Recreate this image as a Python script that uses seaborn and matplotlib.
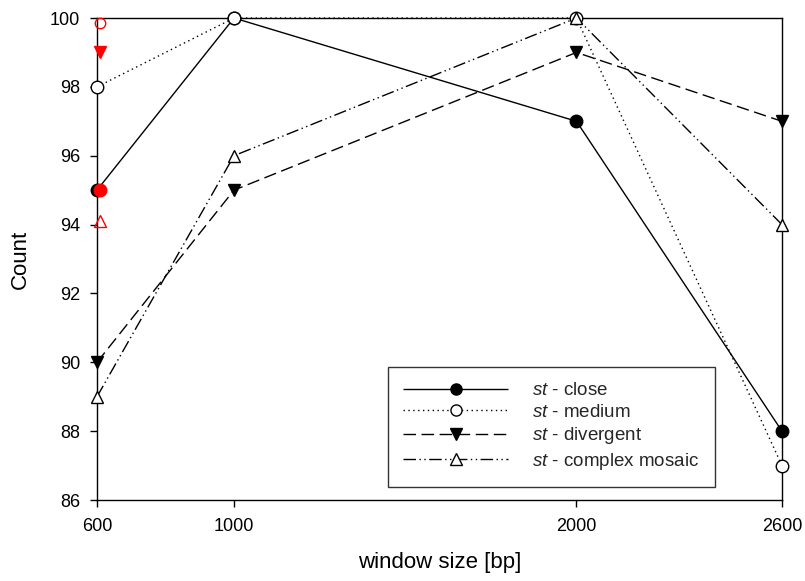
import matplotlib
matplotlib.use("Agg")
import matplotlib.pyplot as plt
import seaborn as sns
import pandas as pd

# window sizes and counts per sequence type
window_sizes = [600, 1000, 2000, 2600]
close = [95, 100, 97, 88]
medium = [98, 100, 100, 87]
divergent = [90, 95, 99, 97]
complex_mosaic = [89, 96, 100, 94]

# reference counts shown in red at the first window size
ref_x = 608
ref_close = 95.0
ref_medium = 99.85
ref_divergent = 99.0
ref_complex = 94.1

x_ticks = [600, 1000, 2000, 2600]
y_ticks = [86, 88, 90, 92, 94, 96, 98, 100]

sns.set_theme(style="white")
plt.rcParams["font.family"] = ["Liberation Sans", "DejaVu Sans"]
plt.rcParams["mathtext.fontset"] = "custom"
plt.rcParams["mathtext.it"] = "Liberation Sans:italic"
plt.rcParams["mathtext.rm"] = "Liberation Sans"

fig = plt.figure(figsize=(8.05, 5.81), dpi=100)
ax = fig.add_axes([0.1205, 0.1394, 0.8509, 0.8296])

series = [
    ("close", close, "o", "black", (0, ())),
    ("medium", medium, "o", "white", (0, (1, 2.5))),
    ("divergent", divergent, "v", "black", (0, (9, 4))),
    ("complex mosaic", complex_mosaic, "^", "white", (0, (9, 2.5, 1, 2.5, 1, 2.5))),
]

for name, vals, mk, fc, ls in series:
    df = pd.DataFrame({"w": window_sizes, "c": vals})
    sns.lineplot(data=df, x="w", y="c", ax=ax, color="black", linewidth=1.0,
                 linestyle=ls, marker=mk, markersize=9, markerfacecolor=fc,
                 markeredgecolor="black", markeredgewidth=1.0,
                 label=r"$\it{st}$ - " + name, clip_on=False, zorder=3)

# red reference markers
ref = pd.DataFrame({
    "w": [ref_x, ref_x, ref_x, ref_x],
    "c": [ref_medium, ref_divergent, ref_close, ref_complex],
})
styles = [("o", "none", 7.5), ("v", "red", 8), ("o", "red", 9), ("^", "none", 8)]
for (_, row), (mk, fc, ms) in zip(ref.iterrows(), styles):
    ax.plot(row["w"], row["c"], marker=mk, ms=ms, mfc=fc, mec="red", mew=1.0,
            linestyle="none", clip_on=False, zorder=4)

ax.set_xlim(600, 2600)
ax.set_ylim(86, 100)
ax.set_xticks(x_ticks)
ax.set_yticks(y_ticks)
ax.tick_params(axis="both", direction="out", length=5, width=1, color="black",
               labelsize=13, labelcolor="black", bottom=True, left=True)
ax.tick_params(axis="y", pad=7)
ax.tick_params(axis="x", pad=8)
for sp in ax.spines.values():
    sp.set_color("black")
    sp.set_linewidth(1.0)

ax.set_xlabel("window size [bp]", fontsize=16, labelpad=12, color="black")
ax.set_ylabel("Count", fontsize=16, labelpad=14, color="black")

leg = ax.legend(loc="lower left", bbox_to_anchor=(0.425, 0.027), frameon=True,
                fancybox=False, edgecolor="black", fontsize=13.5, handlelength=5.6,
                labelspacing=0.24, borderpad=0.8, handletextpad=1.3,
                borderaxespad=0)
leg.get_frame().set_linewidth(1.0)
for h in leg.legend_handles:
    h.set_markersize(8)

fig.savefig("out.png", dpi=100, facecolor="white")
